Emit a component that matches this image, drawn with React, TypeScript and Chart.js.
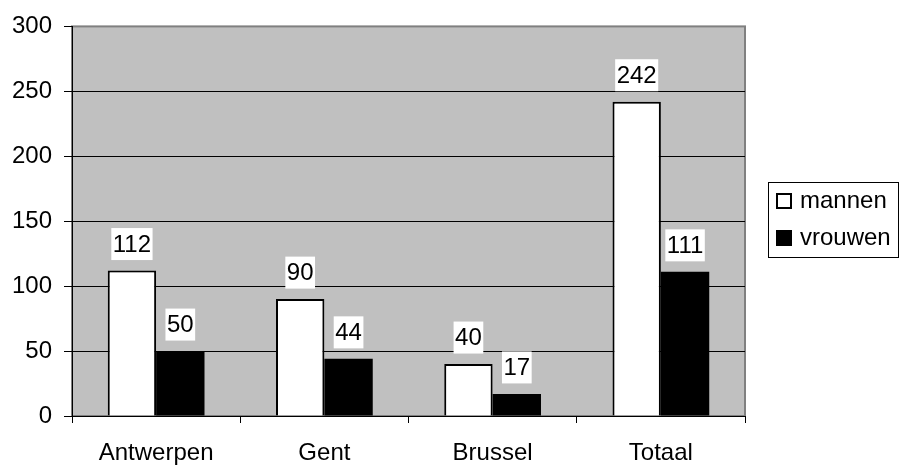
import React, { useEffect, useRef } from "react";
import { Chart, registerables } from "chart.js";

Chart.register(...registerables);

const categories = ["Antwerpen", "Gent", "Brussel", "Totaal"];
const mannen = [112, 90, 40, 242];
const vrouwen = [50, 44, 17, 111];
const seriesNames = ["mannen", "vrouwen"];
const yTicks = [0, 50, 100, 150, 200, 250, 300];

const FONT = "Liberation Sans, Arial, sans-serif";

const plotBg = {
  id: "plotBg",
  beforeDraw(chart: any) {
    const { ctx, chartArea: a } = chart;
    ctx.save();
    ctx.fillStyle = "#c0c0c0";
    ctx.fillRect(a.left, a.top, a.right - a.left, a.bottom - a.top);
    ctx.strokeStyle = "#808080";
    ctx.lineWidth = 2;
    ctx.strokeRect(a.left, a.top, a.right - a.left, a.bottom - a.top);
    ctx.restore();
  },
};

const dataLabels = {
  id: "dataLabels",
  afterDatasetsDraw(chart: any) {
    const { ctx } = chart;
    ctx.save();
    ctx.font = `24px ${FONT}`;
    chart.data.datasets.forEach((ds: any, di: number) => {
      const meta = chart.getDatasetMeta(di);
      meta.data.forEach((bar: any, i: number) => {
        const text = String(ds.data[i]);
        const w = ctx.measureText(text).width + 3;
        const h = 32;
        const bottom = bar.y - 10.5;
        const top = bottom - h;
        ctx.fillStyle = "#ffffff";
        ctx.fillRect(bar.x - w / 2, top, w, h);
        ctx.fillStyle = "#000000";
        ctx.textAlign = "center";
        ctx.textBaseline = "middle";
        ctx.fillText(text, bar.x, top + h / 2 + 1);
      });
    });
    ctx.restore();
  },
};

const legendBox = {
  id: "legendBox",
  afterDraw(chart: any) {
    const { ctx } = chart;
    ctx.save();
    ctx.strokeStyle = "#000000";
    ctx.lineWidth = 1;
    ctx.strokeRect(768.5, 182.5, 130, 75);
    const items = [
      { name: seriesNames[0], fill: "#ffffff", y: 193 },
      { name: seriesNames[1], fill: "#000000", y: 230 },
    ];
    ctx.font = `24px ${FONT}`;
    items.forEach((it) => {
      ctx.fillStyle = it.fill;
      ctx.fillRect(776, it.y, 16, 16);
      ctx.strokeStyle = "#000000";
      ctx.lineWidth = 2;
      ctx.strokeRect(777, it.y + 1, 14, 14);
      ctx.fillStyle = "#000000";
      ctx.textAlign = "left";
      ctx.textBaseline = "middle";
      ctx.fillText(it.name, 800, it.y + 8);
    });
    ctx.restore();
  },
};

export default function App() {
  const ref = useRef<HTMLCanvasElement>(null);
  useEffect(() => {
    if (!ref.current) return;
    const chart = new Chart(ref.current, {
      type: "bar",
      data: {
        labels: categories,
        datasets: [
          {
            label: seriesNames[0],
            data: mannen,
            backgroundColor: "#ffffff",
            borderColor: "#000000",
            borderWidth: 2,
            categoryPercentage: 0.575,
            barPercentage: 1,
          },
          {
            label: seriesNames[1],
            data: vrouwen,
            backgroundColor: "#000000",
            borderColor: "#000000",
            borderWidth: 0,
            categoryPercentage: 0.575,
            barPercentage: 1,
          },
        ],
      },
      options: {
        animation: false,
        responsive: true,
        maintainAspectRatio: false,
        layout: { padding: { top: 24, right: 155, left: 0, bottom: 0 } },
        plugins: { legend: { display: false }, tooltip: { enabled: false } },
        scales: {
          x: {
            grid: {
              offset: true,
              drawOnChartArea: false,
              drawTicks: true,
              tickLength: 7,
              color: "#000000",
            },
            border: { color: "#000000", width: 1 },
            ticks: {
              color: "#000000",
              font: { family: FONT, size: 24 },
              padding: 16,
              maxRotation: 0,
            },
            afterFit(scale: any) {
              scale.height = 51;
            },
          },
          y: {
            min: 0,
            max: 300,
            afterBuildTicks(scale: any) {
              scale.ticks = yTicks.map((v) => ({ value: v }));
            },
            grid: {
              color: (c: any) =>
                c.tick && c.tick.value === 300 ? "#808080" : "#000000",
              tickColor: "#000000",
              tickLength: 8,
              lineWidth: 1,
            },
            border: { color: "#000000", width: 1 },
            ticks: {
              color: "#000000",
              font: { family: FONT, size: 24 },
              padding: 12,
            },
            afterFit(scale: any) {
              scale.width = 72;
            },
          },
        },
      },
      plugins: [plotBg, dataLabels, legendBox],
    });
    return () => chart.destroy();
  }, []);
  return (
    <div style={{ position: "fixed", left: 0, top: 0, width: 900, height: 467 }}>
      <canvas ref={ref} />
    </div>
  );
}
